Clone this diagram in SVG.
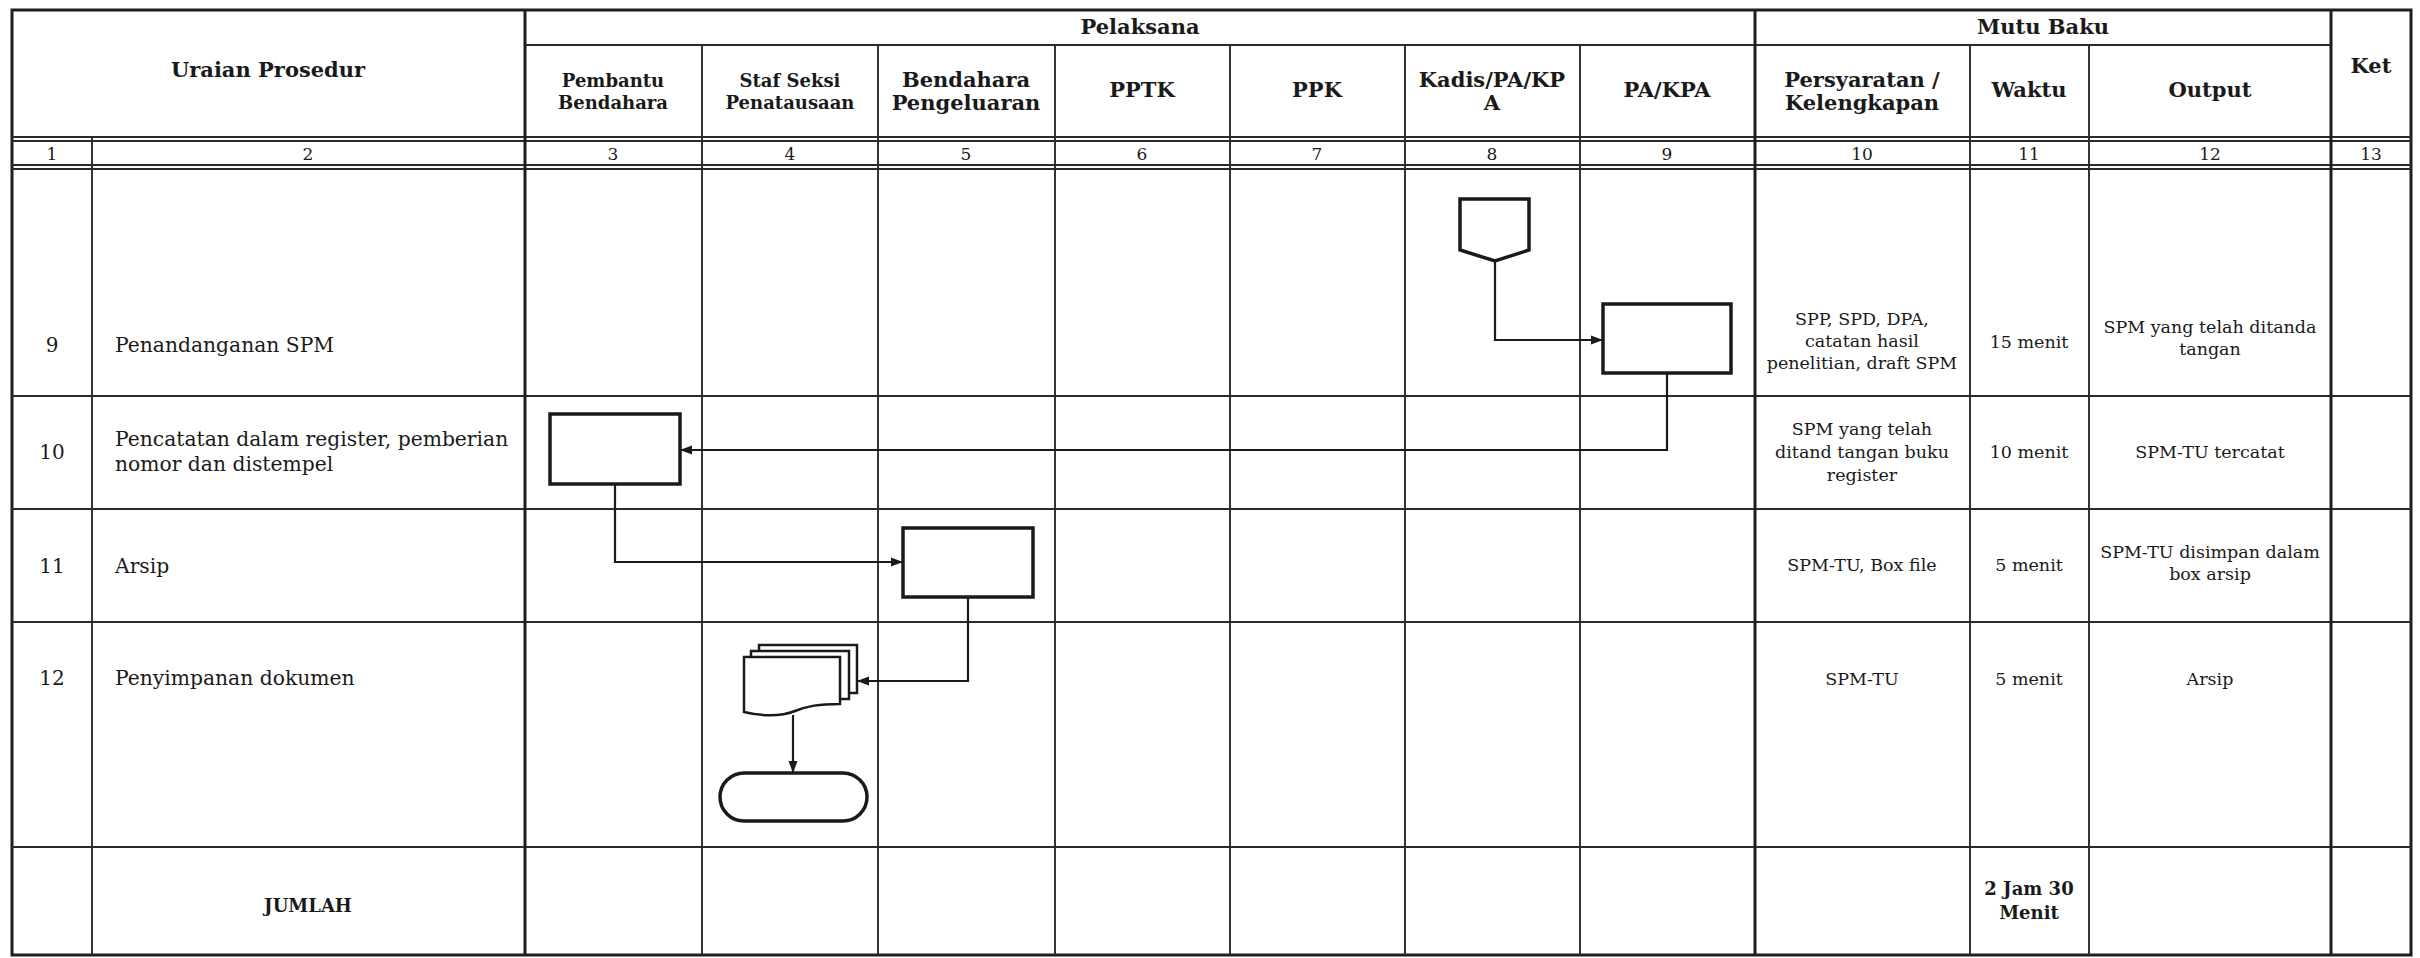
<svg xmlns="http://www.w3.org/2000/svg" width="2420" height="958" viewBox="0 0 2420 958">
<style>
.bg{fill:#ffffff}
.grid{stroke:#2a2a2a;stroke-width:1.9;fill:none}
.thick{stroke:#1e1e1e;stroke-width:3;fill:none}
.shape{fill:#ffffff;stroke:#1a1a1a;stroke-width:3.5}
.conn{fill:none;stroke:#1a1a1a;stroke-width:2.2}
text{font-family:"DejaVu Serif","Liberation Serif",serif;fill:#1a1a1a}
.h{font-size:21px;font-weight:bold;text-anchor:middle}
.hs{font-size:18px;font-weight:bold;text-anchor:middle}
.n{font-size:17px;text-anchor:middle}
.t{font-size:20.3px}
.tc{font-size:20px;text-anchor:middle}
.c{font-size:17.5px;text-anchor:middle}
.b{font-size:18px;font-weight:bold;text-anchor:middle}
</style>
<defs>
<marker id="ah" markerWidth="12" markerHeight="10" refX="11" refY="5" orient="auto" markerUnits="userSpaceOnUse">
<path d="M0,0.5 L12,5 L0,9.5 Z" fill="#1a1a1a"/>
</marker>
</defs>
<rect class="bg" x="0" y="0" width="2420" height="958"/>

<g id="table">
<rect class="thick" x="12" y="10" width="2399" height="945"/>
<line class="grid" x1="525" y1="45" x2="2331" y2="45"/>
<line class="grid" x1="12" y1="137" x2="2411" y2="137"/>
<line class="grid" x1="12" y1="141" x2="2411" y2="141"/>
<line class="grid" x1="12" y1="165" x2="2411" y2="165"/>
<line class="grid" x1="12" y1="169" x2="2411" y2="169"/>
<line class="grid" x1="12" y1="396" x2="2411" y2="396"/>
<line class="grid" x1="12" y1="509" x2="2411" y2="509"/>
<line class="grid" x1="12" y1="622" x2="2411" y2="622"/>
<line class="grid" x1="12" y1="847" x2="2411" y2="847"/>
<line class="grid" x1="92" y1="137" x2="92" y2="955"/>
<line class="thick" x1="525" y1="10" x2="525" y2="955"/>
<line class="grid" x1="702" y1="45" x2="702" y2="955"/>
<line class="grid" x1="878" y1="45" x2="878" y2="955"/>
<line class="grid" x1="1055" y1="45" x2="1055" y2="955"/>
<line class="grid" x1="1230" y1="45" x2="1230" y2="955"/>
<line class="grid" x1="1405" y1="45" x2="1405" y2="955"/>
<line class="grid" x1="1580" y1="45" x2="1580" y2="955"/>
<line class="thick" x1="1755" y1="10" x2="1755" y2="955"/>
<line class="grid" x1="1970" y1="45" x2="1970" y2="955"/>
<line class="grid" x1="2089" y1="45" x2="2089" y2="955"/>
<line class="thick" x1="2331" y1="10" x2="2331" y2="955"/>
</g>

<g id="header">
<text class="h" x="268" y="77">Uraian Prosedur</text>
<text class="h" x="1140" y="34">Pelaksana</text>
<text class="h" x="2043" y="34">Mutu Baku</text>
<text class="h" x="2371" y="73">Ket</text>
<text class="hs" x="613" y="87">Pembantu</text>
<text class="hs" x="613" y="109">Bendahara</text>
<text class="hs" x="790" y="87">Staf Seksi</text>
<text class="hs" x="790" y="109">Penatausaan</text>
<text class="h" x="966" y="87">Bendahara</text>
<text class="h" x="966" y="110">Pengeluaran</text>
<text class="h" x="1142" y="97">PPTK</text>
<text class="h" x="1317" y="97">PPK</text>
<text class="h" x="1492" y="87">Kadis/PA/KP</text>
<text class="h" x="1492" y="110">A</text>
<text class="h" x="1667" y="97">PA/KPA</text>
<text class="h" x="1862" y="87">Persyaratan /</text>
<text class="h" x="1862" y="110">Kelengkapan</text>
<text class="h" x="2029" y="97">Waktu</text>
<text class="h" x="2210" y="97">Output</text>
<text class="n" x="52" y="160">1</text>
<text class="n" x="308" y="160">2</text>
<text class="n" x="613" y="160">3</text>
<text class="n" x="790" y="160">4</text>
<text class="n" x="966" y="160">5</text>
<text class="n" x="1142" y="160">6</text>
<text class="n" x="1317" y="160">7</text>
<text class="n" x="1492" y="160">8</text>
<text class="n" x="1667" y="160">9</text>
<text class="n" x="1862" y="160">10</text>
<text class="n" x="2029" y="160">11</text>
<text class="n" x="2210" y="160">12</text>
<text class="n" x="2371" y="160">13</text>
</g>

<g id="row9">
<text class="tc" x="52" y="352">9</text>
<text class="t" x="115" y="352">Penandanganan SPM</text>
<text class="c" x="1862" y="325">SPP, SPD, DPA,</text>
<text class="c" x="1862" y="347">catatan hasil</text>
<text class="c" x="1862" y="369">penelitian, draft SPM</text>
<text class="c" x="2029" y="348">15 menit</text>
<text class="c" x="2210" y="333">SPM yang telah ditanda</text>
<text class="c" x="2210" y="355">tangan</text>
</g>

<g id="row10">
<text class="tc" x="52" y="459">10</text>
<text class="t" x="115" y="446">Pencatatan dalam register, pemberian</text>
<text class="t" x="115" y="471">nomor dan distempel</text>
<text class="c" x="1862" y="435">SPM yang telah</text>
<text class="c" x="1862" y="458">ditand tangan buku</text>
<text class="c" x="1862" y="481">register</text>
<text class="c" x="2029" y="458">10 menit</text>
<text class="c" x="2210" y="458">SPM-TU tercatat</text>
</g>

<g id="row11">
<text class="tc" x="52" y="573">11</text>
<text class="t" x="115" y="573">Arsip</text>
<text class="c" x="1862" y="571">SPM-TU, Box file</text>
<text class="c" x="2029" y="571">5 menit</text>
<text class="c" x="2210" y="558">SPM-TU disimpan dalam</text>
<text class="c" x="2210" y="580">box arsip</text>
</g>

<g id="row12">
<text class="tc" x="52" y="685">12</text>
<text class="t" x="115" y="685">Penyimpanan dokumen</text>
<text class="c" x="1862" y="685">SPM-TU</text>
<text class="c" x="2029" y="685">5 menit</text>
<text class="c" x="2210" y="685">Arsip</text>
</g>

<g id="jumlah">
<text class="b" x="308" y="912">JUMLAH</text>
<text class="b" x="2029" y="895">2 Jam 30</text>
<text class="b" x="2029" y="919">Menit</text>
</g>

<g id="connectors">
<path class="conn" d="M1495,261 V340 H1602" marker-end="url(#ah)"/>
<path class="conn" d="M1667,373 V450 H681" marker-end="url(#ah)"/>
<path class="conn" d="M615,484 V562 H902" marker-end="url(#ah)"/>
<path class="conn" d="M968,597 V681 H858" marker-end="url(#ah)"/>
<path class="conn" d="M793,715 V772" marker-end="url(#ah)"/>
</g>

<g id="node-offpage">
<polygon class="shape" points="1460,199 1529,199 1529,250 1495,261 1460,250"/>
</g>
<g id="node-box9">
<rect class="shape" x="1603" y="304" width="128" height="69"/>
</g>
<g id="node-box10">
<rect class="shape" x="550" y="414" width="130" height="70"/>
</g>
<g id="node-box11">
<rect class="shape" x="903" y="528" width="130" height="69"/>
</g>
<g id="node-multidoc">
<rect class="shape" style="stroke-width:2.5" x="759" y="645" width="98" height="48"/>
<rect class="shape" style="stroke-width:2.5" x="751" y="651" width="98" height="48"/>
<path class="shape" style="stroke-width:2.5" d="M744,657 H840 V704 C818,704 808,706 795,711 C780,717 760,716 744,712 Z"/>
</g>
<g id="node-terminator">
<rect class="shape" x="720" y="773" width="147" height="48" rx="24" ry="24"/>
</g>
</svg>
